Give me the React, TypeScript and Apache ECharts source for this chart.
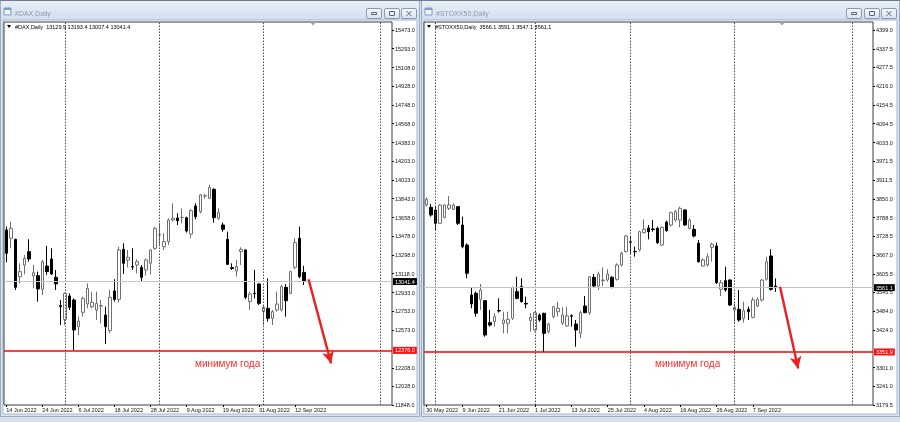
import React, { useEffect, useRef } from "react";
import * as echarts from "echarts";

const FONT = "'Liberation Sans', Arial, sans-serif";
const MONTHS = ["Jan", "Feb", "Mar", "Apr", "May", "Jun", "Jul", "Aug", "Sep", "Oct", "Nov", "Dec"];

// ---------- DAX (left window) ----------
const daxSymbol = "#DAX";
const daxStart = "2022-06-14";
const daxSlots = 86;
// [open, close, low, high]
const daxCandles: number[][] = [
  [13539.8, 13314.2, 13227.0, 13572.0],
  [13459.2, 13555.8, 13362.5, 13620.3],
  [13449.5, 12985.5, 12959.7, 13455.0],
  [13088.6, 13137.0, 13024.2, 13217.4],
  [13201.4, 13265.9, 13111.2, 13298.1],
  [13330.3, 13259.4, 13233.6, 13449.5],
  [13095.1, 13127.3, 12975.9, 13201.4],
  [13098.3, 12969.4, 12847.0, 13137.0],
  [12966.2, 13233.6, 12911.4, 13249.8],
  [13191.8, 13137.0, 13104.7, 13385.1],
  [13259.4, 13114.4, 13104.7, 13362.5],
  [13082.2, 13017.7, 12959.7, 13153.1],
  [12808.3, 12798.6, 12621.4, 12863.1],
  [12676.0, 12927.5, 12621.4, 12934.0],
  [12901.7, 12792.2, 12766.4, 12927.5],
  [12863.1, 12573.0, 12376.0, 12879.2],
  [12605.3, 12660.0, 12524.7, 12702.0],
  [12743.8, 12879.2, 12702.0, 12895.3],
  [12824.4, 12975.9, 12782.5, 13024.2],
  [12798.6, 12840.5, 12782.5, 12943.6],
  [12766.4, 12830.8, 12669.5, 12943.6],
  [12805.0, 12808.0, 12637.5, 12863.1],
  [12718.0, 12605.3, 12437.7, 12798.6],
  [12566.6, 12888.8, 12540.8, 12959.7],
  [12950.1, 12869.5, 12847.0, 13062.9],
  [12869.5, 13346.4, 12837.3, 13378.6],
  [13352.8, 13217.4, 13114.4, 13410.9],
  [13249.8, 13275.5, 13178.9, 13346.4],
  [13186.0, 13183.0, 13153.1, 13362.5],
  [13201.4, 13233.6, 13120.9, 13256.0],
  [13178.9, 13082.2, 13040.3, 13201.4],
  [13153.1, 13249.8, 13098.3, 13265.9],
  [13217.4, 13346.4, 13111.2, 13352.8],
  [13362.5, 13555.8, 13346.4, 13572.0],
  [13490.0, 13494.0, 13394.8, 13604.2],
  [13378.6, 13427.0, 13346.4, 13507.5],
  [13427.0, 13636.4, 13394.8, 13652.5],
  [13636.4, 13652.5, 13620.3, 13797.5],
  [13655.8, 13630.0, 13588.1, 13700.9],
  [13659.0, 13662.0, 13604.1, 13749.1],
  [13658.9, 13530.0, 13513.9, 13668.6],
  [13501.0, 13726.6, 13459.1, 13739.5],
  [13771.7, 13668.6, 13642.8, 13797.5],
  [13716.9, 13878.0, 13700.8, 13887.7],
  [13868.0, 13871.0, 13842.6, 13887.7],
  [13845.8, 13952.1, 13836.1, 13977.9],
  [13932.8, 13658.9, 13610.6, 13942.5],
  [13652.5, 13707.2, 13636.4, 13749.1],
  [13588.0, 13546.1, 13523.6, 13610.6],
  [13449.5, 13207.8, 13201.3, 13523.6],
  [13176.0, 13168.0, 13153.0, 13217.5],
  [13143.3, 13185.2, 13088.6, 13249.7],
  [13330.2, 13352.8, 13201.3, 13372.1],
  [13346.3, 12888.8, 12869.5, 13352.8],
  [12846.9, 12921.1, 12766.3, 12943.6],
  [12929.0, 12925.0, 12879.1, 13153.0],
  [13017.7, 12830.8, 12814.7, 13024.1],
  [12750.2, 12792.1, 12621.3, 12805.0],
  [12782.4, 12685.8, 12653.6, 13072.5],
  [12685.8, 12750.2, 12621.3, 12766.3],
  [12766.3, 12824.3, 12750.2, 12943.6],
  [12766.3, 12991.9, 12750.2, 13008.0],
  [12985.4, 12856.5, 12701.9, 13017.7],
  [12927.5, 13136.9, 12921.1, 13146.6],
  [13178.8, 13417.3, 13159.5, 13459.1],
  [13459.1, 13088.6, 13072.5, 13571.9],
  [13129.9, 13041.4, 13007.4, 13193.4],
];
const daxTicks = [15473.0, 15293.0, 15108.0, 14928.0, 14748.0, 14568.0, 14383.0, 14203.0, 14023.0, 13843.0, 13658.0, 13478.0, 13298.0, 13118.0, 12933.0, 12753.0, 12573.0, 12208.0, 12028.0, 11848.0];
const daxRange = [11848.0, 15550.0];
const daxYearLow = 12376.0;
const daxSeparators = ["1 Jul 2022", "1 Aug 2022", "1 Sep 2022", "7 Oct 2022"];
// arrow: [fromIndex, fromPrice, toIndex, toPrice]
const daxArrow = [67, 13063, 72, 12250];

// ---------- STOXX50 (right window) ----------
const stoxxSymbol = "#STOXX50";
const stoxxStart = "2022-05-30";
const stoxxSlots = 99;
const stoxxCandles: number[][] = [
  [3829.9, 3848.3, 3824.5, 3854.8],
  [3822.3, 3797.4, 3792.0, 3833.2],
  [3813.6, 3770.3, 3748.6, 3824.5],
  [3770.3, 3829.9, 3768.1, 3833.2],
  [3789.8, 3829.9, 3786.5, 3833.2],
  [3819.1, 3829.9, 3813.6, 3859.2],
  [3815.8, 3829.9, 3813.6, 3835.3],
  [3824.5, 3770.3, 3764.9, 3826.6],
  [3764.9, 3694.4, 3689.0, 3792.0],
  [3699.8, 3607.7, 3591.4, 3705.2],
  [3537.2, 3507.9, 3493.9, 3562.1],
  [3542.6, 3477.6, 3466.8, 3548.1],
  [3523.1, 3553.5, 3488.4, 3573.0],
  [3518.8, 3407.1, 3401.7, 3521.0],
  [3447.3, 3439.7, 3434.2, 3488.4],
  [3450.5, 3466.8, 3434.2, 3477.6],
  [3487.0, 3485.0, 3479.8, 3526.4],
  [3445.1, 3455.9, 3412.6, 3483.0],
  [3445.1, 3458.1, 3412.6, 3483.0],
  [3461.4, 3562.1, 3455.9, 3564.3],
  [3548.1, 3526.4, 3523.1, 3596.8],
  [3564.3, 3515.5, 3512.3, 3591.4],
  [3510.0, 3508.0, 3493.9, 3531.8],
  [3453.8, 3464.6, 3418.0, 3477.6],
  [3423.4, 3479.8, 3418.0, 3483.0],
  [3472.2, 3455.9, 3450.5, 3477.6],
  [3477.6, 3412.6, 3351.9, 3479.8],
  [3418.0, 3442.9, 3412.6, 3447.3],
  [3466.8, 3499.3, 3461.4, 3501.4],
  [3483.0, 3493.9, 3466.8, 3515.5],
  [3445.1, 3472.2, 3439.7, 3497.1],
  [3436.4, 3469.0, 3434.2, 3499.3],
  [3470.0, 3468.0, 3434.2, 3474.3],
  [3442.9, 3423.4, 3369.2, 3455.9],
  [3412.6, 3479.8, 3396.3, 3486.3],
  [3501.4, 3479.8, 3477.6, 3534.0],
  [3479.8, 3596.8, 3472.2, 3599.0],
  [3594.7, 3566.5, 3562.1, 3605.5],
  [3566.5, 3605.5, 3553.5, 3613.1],
  [3584.0, 3586.0, 3566.5, 3627.2],
  [3586.0, 3605.5, 3580.6, 3620.7],
  [3594.7, 3564.3, 3558.9, 3599.0],
  [3588.2, 3634.8, 3584.0, 3640.2],
  [3634.8, 3672.7, 3629.4, 3678.1],
  [3678.1, 3729.1, 3675.9, 3732.3],
  [3710.0, 3709.0, 3672.7, 3727.0],
  [3679.0, 3678.0, 3661.9, 3694.4],
  [3683.6, 3743.2, 3678.2, 3746.4],
  [3739.9, 3750.8, 3737.8, 3783.3],
  [3755.1, 3743.2, 3718.3, 3764.9],
  [3752.0, 3750.0, 3743.2, 3781.1],
  [3754.0, 3707.4, 3703.1, 3759.5],
  [3699.8, 3757.3, 3696.6, 3759.5],
  [3774.6, 3746.4, 3743.2, 3779.0],
  [3764.9, 3805.0, 3759.5, 3808.2],
  [3781.1, 3808.2, 3775.7, 3813.7],
  [3781.1, 3819.1, 3757.3, 3824.5],
  [3813.7, 3764.9, 3761.6, 3815.8],
  [3754.0, 3781.1, 3750.8, 3786.6],
  [3750.8, 3729.1, 3724.8, 3764.9],
  [3705.3, 3645.6, 3642.4, 3716.1],
  [3631.5, 3651.1, 3629.4, 3656.5],
  [3634.8, 3661.9, 3629.4, 3672.7],
  [3692.3, 3702.0, 3645.6, 3707.4],
  [3696.6, 3577.3, 3573.0, 3707.4],
  [3555.7, 3577.3, 3534.0, 3586.0],
  [3583.9, 3553.5, 3548.1, 3629.4],
  [3586.0, 3504.7, 3501.5, 3588.2],
  [3488.5, 3497.1, 3447.3, 3510.1],
  [3490.6, 3455.9, 3450.5, 3553.5],
  [3461.4, 3486.3, 3447.3, 3515.6],
  [3490.6, 3483.0, 3455.9, 3499.3],
  [3464.6, 3521.0, 3461.4, 3529.6],
  [3501.5, 3523.1, 3497.1, 3529.6],
  [3521.0, 3586.0, 3515.6, 3588.2],
  [3588.2, 3645.6, 3583.9, 3661.9],
  [3664.1, 3555.7, 3551.3, 3685.7],
  [3566.1, 3561.1, 3547.1, 3591.1],
];
const stoxxTicks = [4399.0, 4337.5, 4277.5, 4216.0, 4154.5, 4094.5, 4033.0, 3971.5, 3911.5, 3850.0, 3788.5, 3728.5, 3667.0, 3605.5, 3545.5, 3484.0, 3424.0, 3301.0, 3241.0, 3179.5];
const stoxxRange = [3179.5, 4425.0];
const stoxxYearLow = 3351.9;
const stoxxSeparators = ["1 Jun 2022", "1 Jul 2022", "1 Aug 2022", "1 Sep 2022", "7 Oct 2022"];
const stoxxArrow = [78, 3564, 82, 3298];

const annotationText = "минимум года";

function weekdays(start: string, count: number): string[] {
  const out: string[] = [];
  const d = new Date(start + "T00:00:00Z");
  while (out.length < count) {
    const wd = d.getUTCDay();
    if (wd !== 0 && wd !== 6) out.push(`${d.getUTCDate()} ${MONTHS[d.getUTCMonth()]} ${d.getUTCFullYear()}`);
    d.setUTCDate(d.getUTCDate() + 1);
  }
  return out;
}

type PanelCfg = {
  symbol: string; start: string; slots: number; candles: number[][]; ticks: number[]; range: number[];
  yearLow: number; separators: string[]; arrow: number[]; gridLeft: number; gridWidth: number;
};

function buildPanel(i: number, c: PanelCfg) {
  const cats = weekdays(c.start, c.slots);
  const n = c.candles.length;
  const last = c.candles[n - 1];
  const showIdx = (k: number) => k % 8 === 0 && k < n;
  const grid = {
    left: c.gridLeft, top: 22, width: c.gridWidth, height: 383,
    show: true, backgroundColor: "#ffffff", borderColor: "#3c3c3c", borderWidth: 1,
  };
  const xAxis = {
    type: "category", gridIndex: i, data: cats, boundaryGap: true,
    axisLine: { show: false },
    axisTick: { show: true, alignWithLabel: true, length: 2, interval: (k: number) => showIdx(k), lineStyle: { color: "#000" } },
    axisLabel: { interval: (k: number) => showIdx(k), align: "left", fontSize: 5.5, color: "#111", margin: 2, fontFamily: FONT },
    splitLine: { show: false },
  };
  const yAxis = {
    type: "value", gridIndex: i, position: "right", min: c.range[0], max: c.range[1],
    axisLine: { show: false },
    splitLine: { show: false },
    axisTick: { show: true, length: 2, customValues: c.ticks, lineStyle: { color: "#000" } },
    axisLabel: { customValues: c.ticks, formatter: (v: number) => v.toFixed(1), fontSize: 5.5, color: "#111", margin: 3, fontFamily: FONT },
  };
  const lvlLabel = (bg: string) => ({
    show: true, position: "end", distance: 1, backgroundColor: bg, color: "#fff",
    fontSize: 5.5, fontFamily: FONT, padding: [1, 2, 0, 2],
  });
  const series = {
    type: "candlestick", xAxisIndex: i, yAxisIndex: i, data: c.candles, barWidth: 3,
    itemStyle: { color: "#ffffff", color0: "#000000", borderColor: "#707070", borderColor0: "#000000", borderWidth: 1 },
    markLine: {
      silent: true, symbol: ["none", "none"], animation: false,
      data: [
        ...c.separators.map((s) => ({ xAxis: s, lineStyle: { type: [1.5, 1.5], color: "#4a4a4a", width: 1 }, label: { show: false } })),
        { yAxis: last[1], lineStyle: { type: "solid", color: "#c4c4c4", width: 1 }, label: { ...lvlLabel("#000"), formatter: last[1].toFixed(1) } },
        { yAxis: c.yearLow, lineStyle: { type: "solid", color: "#ff0000", width: 1.5 }, label: { ...lvlLabel("#ff1010"), formatter: c.yearLow.toFixed(1) } },
        [
          { coord: [c.arrow[0], c.arrow[1]], symbol: "none", lineStyle: { type: "solid", color: "#f01e1e", width: 2.4 }, label: { show: false } },
          { coord: [c.arrow[2], c.arrow[3]], symbol: "arrow", symbolSize: [9, 12] },
        ],
      ],
    },
  };
  const titleText = `${c.symbol},Daily  ${last[0].toFixed(1)} ${last[3].toFixed(1)} ${last[2].toFixed(1)} ${last[1].toFixed(1)}`;
  return { grid, xAxis, yAxis, series, titleText };
}

function windowChrome(x: number, w: number, title: string, plotTitle: string, plotLeft: number, shiftX: number, textX: number) {
  const grad = new echarts.graphic.LinearGradient(0, 0, 0, 1, [
    { offset: 0, color: "#e8eff8" },
    { offset: 1, color: "#d3dfee" },
  ]);
  const btnGrad = new echarts.graphic.LinearGradient(0, 0, 0, 1, [
    { offset: 0, color: "#f7f9fc" },
    { offset: 1, color: "#d9e2ee" },
  ]);
  const els: any[] = [
    { type: "rect", shape: { x: x + 0.5, y: 0.5, width: w - 1, height: 416 }, style: { fill: "#d9e4f1", stroke: "#9badc4", lineWidth: 1 }, z: -8, silent: true },
    { type: "rect", shape: { x: x + 1, y: 1, width: w - 2, height: 19 }, style: { fill: grad }, z: -7, silent: true },
    { type: "rect", shape: { x: x + 3, y: 20, width: w - 6, height: 394 }, style: { fill: "#ffffff", stroke: "#a9b7c9", lineWidth: 1 }, z: -7, silent: true },
    { type: "rect", shape: { x: x + 4, y: 8, width: 7, height: 7 }, style: { fill: "#eef4fb", stroke: "#7f9cc2", lineWidth: 1 }, z: 5, silent: true },
    { type: "rect", shape: { x: x + 4, y: 8, width: 7, height: 2 }, style: { fill: "#7f9cc2" }, z: 5, silent: true },
    { type: "text", style: { text: title, x: x + 15, y: 13.5, fill: "#8e9aab", font: `7px ${FONT}`, textVerticalAlign: "middle" }, z: 5, silent: true },
    { type: "polygon", shape: { points: [[plotLeft + 2, 25], [plotLeft + 6, 25], [plotLeft + 4, 28]] }, style: { fill: "#000" }, z: 20, silent: true },
    { type: "text", style: { text: plotTitle, x: textX, y: 26.5, fill: "#000", font: `5.5px ${FONT}`, textVerticalAlign: "middle" }, z: 20, silent: true },
    { type: "polygon", shape: { points: [[shiftX - 3, 22], [shiftX + 3, 22], [shiftX, 25.5]] }, style: { fill: "#a0a0a0" }, z: 20, silent: true },
  ];
  const right = x + w;
  const btnXs = [right - 54, right - 36, right - 19];
  btnXs.forEach((bx, k) => {
    els.push({ type: "rect", shape: { x: bx + 0.5, y: 8.5, width: 15, height: 10, r: 1.5 }, style: { fill: btnGrad, stroke: "#8a9bb2", lineWidth: 1 }, z: 5, silent: true });
    if (k === 0) els.push({ type: "rect", shape: { x: bx + 5.5, y: 12.5, width: 5, height: 2 }, style: { fill: "none", stroke: "#5b6b80", lineWidth: 1 }, z: 6, silent: true });
    if (k === 1) els.push({ type: "rect", shape: { x: bx + 5.5, y: 11.5, width: 5, height: 4 }, style: { fill: "none", stroke: "#5b6b80", lineWidth: 1 }, z: 6, silent: true });
    if (k === 2) {
      els.push({ type: "line", shape: { x1: bx + 5.5, y1: 11, x2: bx + 10.5, y2: 16 }, style: { stroke: "#5b6b80", lineWidth: 1 }, z: 6, silent: true });
      els.push({ type: "line", shape: { x1: bx + 10.5, y1: 11, x2: bx + 5.5, y2: 16 }, style: { stroke: "#5b6b80", lineWidth: 1 }, z: 6, silent: true });
    }
  });
  return els;
}

export default function App() {
  const ref = useRef<HTMLDivElement>(null);
  useEffect(() => {
    if (!ref.current) return;
    const chart = echarts.init(ref.current, undefined, { renderer: "svg" });
    const left = buildPanel(0, {
      symbol: daxSymbol, start: daxStart, slots: daxSlots, candles: daxCandles, ticks: daxTicks, range: daxRange,
      yearLow: daxYearLow, separators: daxSeparators, arrow: daxArrow, gridLeft: 4, gridWidth: 388,
    });
    const right = buildPanel(1, {
      symbol: stoxxSymbol, start: stoxxStart, slots: stoxxSlots, candles: stoxxCandles, ticks: stoxxTicks, range: stoxxRange,
      yearLow: stoxxYearLow, separators: stoxxSeparators, arrow: stoxxArrow, gridLeft: 424, gridWidth: 449,
    });
    const graphic: any[] = [
      { type: "rect", shape: { x: 0, y: 0, width: 900, height: 422 }, style: { fill: "#d5e0ec" }, z: -10, silent: true },
      ...windowChrome(0, 420, "#DAX,Daily", left.titleText, 5, 313, 15),
      ...windowChrome(421, 479, "#STOXX50,Daily", right.titleText, 425, 782, 435),
      { type: "line", shape: { x1: 0, y1: 0.5, x2: 900, y2: 0.5 }, style: { stroke: "#6f7c8c", lineWidth: 1 }, z: 30, silent: true },
      { type: "text", style: { text: annotationText, x: 195, y: 363, fill: "#ff2a2a", font: `10px ${FONT}`, textVerticalAlign: "middle" }, z: 20, silent: true },
      { type: "text", style: { text: annotationText, x: 655, y: 363, fill: "#ff2a2a", font: `10px ${FONT}`, textVerticalAlign: "middle" }, z: 20, silent: true },
    ];
    chart.setOption({
      animation: false,
      textStyle: { fontFamily: FONT },
      grid: [left.grid, right.grid],
      xAxis: [left.xAxis, right.xAxis],
      yAxis: [left.yAxis, right.yAxis],
      series: [left.series, right.series],
      graphic,
    } as any);
    return () => chart.dispose();
  }, []);
  return <div ref={ref} style={{ position: "fixed", left: 0, top: 0, width: 900, height: 422 }} />;
}
